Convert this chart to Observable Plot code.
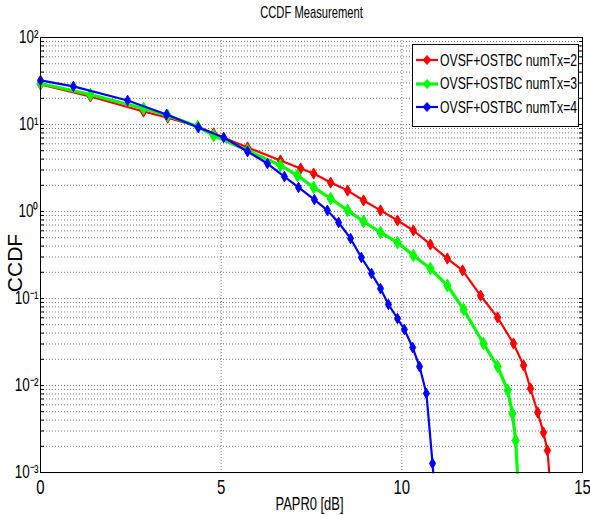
<!DOCTYPE html>
<html>
<head>
<meta charset="utf-8">
<script src="https://cdn.jsdelivr.net/npm/d3@7"></script>
<script src="https://cdn.jsdelivr.net/npm/@observablehq/plot@0.6"></script>
<style>
  html, body { margin: 0; padding: 0; background: #fff; }
  #wrap { position: relative; width: 590px; height: 515px; }
  #legend {
    position: absolute; left: 412px; top: 44px; width: 167px; height: 83px;
    background: #fff; border: 1px solid #000; box-sizing: border-box;
    font-family: "Liberation Sans", Arial, sans-serif;
    font-size: 16.5px; color: #000;
  }
  .row { position: absolute; left: 2px; height: 22px; display: flex; align-items: center; white-space: nowrap; }
  .row svg { margin-right: 1px; flex: none; }
  .row span { display: inline-block; transform: scaleX(0.74); transform-origin: left center; }
</style>
</head>
<body>
<div id="wrap"></div>
<script>
// ---- data (x = PAPR0 [dB], y = CCDF) ----
const seriesNames = ["OVSF+OSTBC numTx=2", "OVSF+OSTBC numTx=3", "OVSF+OSTBC numTx=4"];
const seriesColors = ["#ff0000", "#00ff00", "#0000ff"];

const x2 = [0, 1.38, 2.85, 3.52, 4.35, 4.79, 5.73, 6.64, 7.20, 7.56, 8.03, 8.50, 8.94, 9.41, 9.88, 10.32, 10.79, 11.26, 11.68, 12.18, 12.65, 13.09, 13.37, 13.56, 13.76, 13.92, 14.03, 14.08];
const y2 = [28.8, 21.0, 14.1, 12.0, 9.48, 7.88, 5.44, 3.86, 3.12, 2.73, 2.15, 1.74, 1.34, 1.03, 0.788, 0.605, 0.418, 0.288, 0.210, 0.108, 0.0605, 0.0304, 0.0170, 0.00925, 0.0049, 0.00288, 0.00179, 0.001];

const x3 = [0, 1.38, 2.85, 3.52, 4.35, 4.79, 5.73, 6.64, 7.11, 7.56, 8.03, 8.50, 8.94, 9.41, 9.88, 10.32, 10.79, 11.26, 11.71, 12.26, 12.65, 12.93, 13.06, 13.15, 13.20];
const y3 = [29.6, 22.1, 15.3, 12.7, 9.48, 7.48, 5.02, 3.38, 2.60, 1.89, 1.41, 1.03, 0.767, 0.574, 0.44, 0.312, 0.221, 0.141, 0.0748, 0.0304, 0.0165, 0.00877, 0.00476, 0.00233, 0.001];

const x4 = [0, 0.91, 2.41, 3.49, 4.37, 5.07, 5.73, 6.28, 6.75, 7.14, 7.58, 7.94, 8.25, 8.58, 8.88, 9.16, 9.41, 9.63, 9.88, 10.07, 10.30, 10.49, 10.68, 10.85, 10.87];
const y4 = [32.1, 27.4, 18.9, 13.0, 9.25, 7.1, 4.9, 3.56, 2.52, 1.89, 1.37, 1.03, 0.748, 0.49, 0.296, 0.194, 0.130, 0.0853, 0.0589, 0.044, 0.0273, 0.0165, 0.0081, 0.00127, 0.001];

const xTicks = [0, 5, 10, 15];
const xGrid = [5, 10];
const yDomain = [1e-3, 1e2];
const yMajor = [1e-3, 1e-2, 1e-1, 1e0, 1e1, 1e2];
const yTickLabels = ["10⁻³", "10⁻²", "10⁻¹", "10⁰", "10¹", "10²"];
const titleText = "CCDF Measurement";
const xLabel = "PAPR0 [dB]";
const yLabel = "CCDF";

// ---- build tables ----
const toRows = (xs, ys) => xs.map((x, i) => ({x, y: ys[i]}));
const series = [
  {name: seriesNames[0], color: seriesColors[0], rows: toRows(x2, y2), w: 2.2, r: 3.4},
  {name: seriesNames[1], color: seriesColors[1], rows: toRows(x3, y3), w: 3.2, r: 3.8},
  {name: seriesNames[2], color: seriesColors[2], rows: toRows(x4, y4), w: 2.2, r: 3.2}
];
const yGrid = d3.scaleLog().domain(yDomain).ticks();

const font = '"Liberation Sans", Arial, sans-serif';
const gridStyle = {stroke: "#777", strokeDasharray: "1,2", strokeWidth: 1};

const marks = [
  Plot.ruleY(yGrid, {y: d => d, ...gridStyle}),
  Plot.ruleX(xGrid, {x: d => d, ...gridStyle}),
  Plot.axisY(yGrid, {anchor: "left", tickSize: 4, dx: 4, tickFormat: () => "", label: null, stroke: "#000"}),
  Plot.axisY(yGrid, {anchor: "right", tickSize: 4, dx: -4, tickFormat: () => "", label: null, stroke: "#000"}),
];
for (const s of series) {
  marks.push(Plot.line(s.rows, {x: "x", y: "y", stroke: s.color, strokeWidth: s.w, curve: "linear"}));
  marks.push(Plot.dot(s.rows.filter(d => d.y > yDomain[0]), {x: "x", y: "y", fill: s.color, stroke: s.color, r: s.r, symbol: "diamond", strokeWidth: 1}));
}
marks.push(
  Plot.frame({stroke: "#000", strokeWidth: 1}),
  Plot.axisX(xTicks, {tickSize: 0, tickPadding: 7, fontSize: 20, label: null, fontFamily: font}),
  Plot.axisY(yMajor, {anchor: "left", tickSize: 0, tickPadding: 2, fontSize: 18, label: null, fontFamily: font,
    tickFormat: d => yTickLabels[yMajor.indexOf(d)]}),
  Plot.text([titleText], {frameAnchor: "top", dy: -25, lineAnchor: "middle", textAnchor: "middle", fontSize: 16, fontFamily: font, fill: "#000"}),
  Plot.text([xLabel], {frameAnchor: "bottom", dy: 31, dx: -2, lineAnchor: "middle", textAnchor: "middle", fontSize: 19, fontFamily: font, fill: "#000"}),
  Plot.text([yLabel], {frameAnchor: "left", dx: -25, dy: 8, rotate: -90, lineAnchor: "middle", textAnchor: "middle", fontSize: 21, fontFamily: font, fill: "#000"})
);

const chart = Plot.plot({
  width: 590,
  height: 515,
  marginLeft: 40,
  marginRight: 8,
  marginTop: 37,
  marginBottom: 43,
  style: {background: "#fff", color: "#000", fontFamily: font},
  x: {domain: [0, 15], axis: null},
  y: {type: "log", domain: yDomain, axis: null},
  marks
});

// the reference's lettering is horizontally condensed: squeeze each horizontal text about its anchor
d3.select(chart).selectAll("text").each(function() {
  const t = this.getAttribute("transform") || "";
  if (/rotate/.test(t)) return;
  const k = this.textContent === xLabel ? 0.68 : this.textContent === titleText ? 0.7 : 0.75;
  const x = parseFloat(this.getAttribute("x")) || 0;
  this.setAttribute("transform", `${t} translate(${x},0) scale(${k},1) translate(${-x},0)`);
});

const wrap = document.getElementById("wrap");
wrap.appendChild(chart);

// legend (HTML overlay, like the MATLAB legend box)
const legend = document.createElement("div");
legend.id = "legend";
series.forEach((s, i) => {
  const row = document.createElement("div");
  row.className = "row";
  row.style.top = (4 + i * 23.5) + "px";
  row.innerHTML = `<svg width="24" height="12"><line x1="1" x2="23" y1="6" y2="6" stroke="${s.color}" stroke-width="${s.w}"/>` +
    `<path d="M12,1.5L16,6L12,10.5L8,6Z" fill="${s.color}" stroke="${s.color}"/></svg>`;
  const span = document.createElement("span");
  span.textContent = s.name;
  row.appendChild(span);
  legend.appendChild(row);
});
wrap.appendChild(legend);
</script>
</body>
</html>
